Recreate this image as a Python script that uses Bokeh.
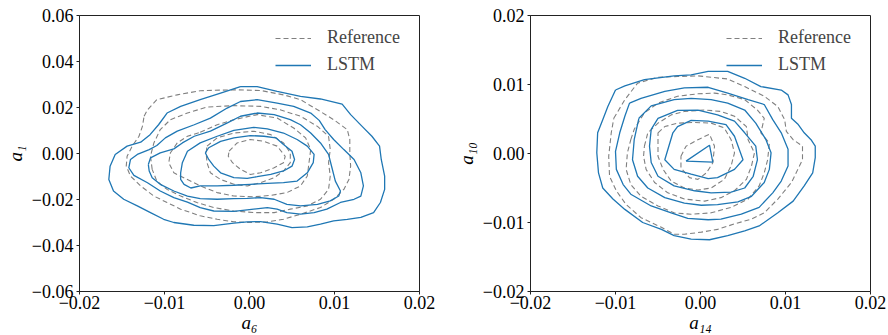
from bokeh.plotting import figure
from bokeh.layouts import row
from bokeh.models import FixedTicker, CustomJSTickFormatter, Range1d
from bokeh.embed import file_html
from bokeh.resources import INLINE

# ---------------- data ----------------
series_names = ["Reference", "LSTM"]

left_x_ticks = [-0.02, -0.01, 0.0, 0.01, 0.02]
left_y_ticks = [-0.06, -0.04, -0.02, 0.0, 0.02, 0.04, 0.06]
right_x_ticks = [-0.02, -0.01, 0.0, 0.01, 0.02]
right_y_ticks = [-0.02, -0.01, 0.0, 0.01, 0.02]

left_labels = ("a₆", "a₁")
right_labels = ("a₁₄", "a₁₀")

# Left panel (a6 vs a1): contour levels, outer to inner, as (x, y) points
left_lstm = [
    [(-0.00106, 0.0291), (0.0009, 0.0291), (0.00325, 0.027), (0.006, 0.0248), (0.00835, 0.0237),
     (0.0109, 0.0215), (0.0119, 0.0169), (0.01325, 0.0118), (0.0144, 0.0075), (0.0153, 0.0032),
     (0.0155, -0.0026), (0.0159, -0.0098), (0.0159, -0.0156), (0.0154, -0.0213), (0.0146, -0.0257),
     (0.0131, -0.0278), (0.0115, -0.0286), (0.0099, -0.0293), (0.00835, -0.0307), (0.0068, -0.0319),
     (0.005, -0.0322), (0.00325, -0.0307), (0.0013, -0.0296), (-0.00027, -0.0297), (-0.00184, -0.0303),
     (-0.0042, -0.0314), (-0.00655, -0.0312), (-0.0089, -0.03), (-0.0101, -0.0286), (-0.01165, -0.0257),
     (-0.0132, -0.0228), (-0.0148, -0.0199), (-0.016, -0.0163), (-0.01655, -0.0113), (-0.0164, -0.0055),
     (-0.0158, -0.0004), (-0.0144, 0.0032), (-0.0128, 0.0049), (-0.0117, 0.0082), (-0.0107, 0.0125),
     (-0.0097, 0.0176), (-0.0081, 0.0205), (-0.0058, 0.0234), (-0.0034, 0.0263)],
    [(-0.00263, 0.01976), (-0.00106, 0.0226), (0.0009, 0.0234), (0.00325, 0.0219), (0.0052, 0.0205),
     (0.0072, 0.0176), (0.0082, 0.0144), (0.0089, 0.0104), (0.0099, 0.0061), (0.0111, 0.0017),
     (0.0123, -0.0026), (0.0131, -0.0084), (0.0134, -0.0141), (0.0131, -0.0185), (0.0123, -0.0199),
     (0.0107, -0.0213), (0.0091, -0.0242), (0.0076, -0.0257), (0.006, -0.0264), (0.0044, -0.0257),
     (0.00325, -0.0242), (0.0021, -0.0235), (0.0005, -0.0242), (-0.00184, -0.0252), (-0.0042, -0.025),
     (-0.0058, -0.0235), (-0.0073, -0.0211), (-0.0089, -0.0192), (-0.0105, -0.0163), (-0.012, -0.0127),
     (-0.0136, -0.0095), (-0.0142, -0.0062), (-0.014, -0.0026), (-0.0132, -0.0004), (-0.0118, 0.0017),
     (-0.0109, 0.0035), (-0.0099, 0.0068), (-0.0085, 0.0097), (-0.0065, 0.0125), (-0.0046, 0.0154)],
    [(-0.0119, -0.0048), (-0.01165, -0.0019), (-0.0105, 0.0003), (-0.0089, 0.002), (-0.0079, 0.0046),
     (-0.0065, 0.0075), (-0.0046, 0.0097), (-0.0026, 0.0133), (-0.00106, 0.0162), (0.0009, 0.0176),
     (0.0029, 0.0169), (0.0048, 0.0147), (0.006, 0.0125), (0.0072, 0.0089), (0.00835, 0.0046),
     (0.0093, -0.0004), (0.0097, -0.0062), (0.0101, -0.012), (0.0107, -0.0163), (0.0105, -0.0185),
     (0.0095, -0.0206), (0.008, -0.0221), (0.006, -0.0228), (0.0044, -0.0221), (0.0029, -0.0199),
     (0.0013, -0.0192), (-0.00027, -0.0195), (-0.00184, -0.0196), (-0.0038, -0.0199), (-0.0058, -0.0196),
     (-0.0073, -0.0185), (-0.0089, -0.0163), (-0.0105, -0.0134), (-0.01145, -0.0105), (-0.0118, -0.0076)],
    [(-0.0081, -0.0084), (-0.0079, -0.004), (-0.0073, 0.001), (-0.0058, 0.0046), (-0.0038, 0.0075),
     (-0.00184, 0.0101), (0.0005, 0.0114), (0.0021, 0.0107), (0.004, 0.0089), (0.0056, 0.0061),
     (0.0068, 0.0032), (0.0076, -0.0004), (0.0075, -0.004), (0.0068, -0.0084), (0.0056, -0.012),
     (0.004, -0.0127), (0.0021, -0.013), (0.0001, -0.0134), (-0.00184, -0.0138), (-0.0038, -0.0141),
     (-0.0058, -0.0141), (-0.0069, -0.015), (-0.0077, -0.0134), (-0.0081, -0.0113)],
    [(-0.0052, 0.0003), (-0.0048, 0.0025), (-0.0034, 0.0053), (-0.00184, 0.0068), (0.0001, 0.0078),
     (0.0017, 0.0075), (0.0031, 0.0068), (0.004, 0.0039), (0.005, 0.001), (0.0053, -0.0026),
     (0.005, -0.0055), (0.004, -0.0076), (0.0025, -0.0091), (0.0009, -0.0101), (-0.00027, -0.0108),
     (-0.00184, -0.0105), (-0.0034, -0.0084), (-0.0042, -0.0055), (-0.0048, -0.0026)],
]

left_ref = [
    [(-0.0124, 0.0162), (-0.012, 0.019), (-0.0109, 0.0234), (-0.0085, 0.0255), (-0.0058, 0.0273),
     (-0.00184, 0.0277), (0.0013, 0.0274), (0.004, 0.0255), (0.006, 0.0234), (0.008, 0.019),
     (0.0099, 0.0147), (0.0115, 0.0104), (0.0118, 0.0061), (0.0118, 0.0003), (0.0119, -0.0055),
     (0.0117, -0.0113), (0.0111, -0.0156), (0.0099, -0.0199), (0.00835, -0.0235), (0.006, -0.0264),
     (0.004, -0.0286), (0.0021, -0.0297), (0.0001, -0.03), (-0.00184, -0.0297), (-0.0038, -0.0286),
     (-0.0058, -0.0271), (-0.0081, -0.0242), (-0.0097, -0.0213), (-0.01125, -0.0185), (-0.0128, -0.0141),
     (-0.014, -0.0098), (-0.0145, -0.0055), (-0.0144, -0.0012), (-0.0138, 0.0032), (-0.013, 0.0075),
     (-0.0126, 0.0118)],
    [(-0.01145, -0.0069), (-0.01165, -0.0012), (-0.01125, 0.0046), (-0.0105, 0.0104), (-0.0093, 0.0147),
     (-0.0073, 0.0176), (-0.005, 0.0202), (-0.00184, 0.0208), (0.0013, 0.0205), (0.0036, 0.019),
     (0.006, 0.0162), (0.008, 0.0118), (0.0093, 0.0075), (0.0095, 0.0017), (0.0093, -0.004),
     (0.0095, -0.0098), (0.0093, -0.0156), (0.00835, -0.0199), (0.0068, -0.0228), (0.0048, -0.0242),
     (0.0029, -0.0257), (0.0005, -0.0257), (-0.00184, -0.025), (-0.0042, -0.0235), (-0.0062, -0.0213),
     (-0.0081, -0.0185), (-0.0097, -0.0156), (-0.0109, -0.012)],
    [(-0.0058, 0.0092), (-0.0038, 0.0125), (-0.00184, 0.0147), (0.0009, 0.0169), (0.00325, 0.0154),
     (0.0052, 0.0111), (0.0066, 0.0068), (0.0072, 0.0017), (0.007, -0.004), (0.0068, -0.0098),
     (0.006, -0.0141), (0.0044, -0.017), (0.0025, -0.0182), (0.0005, -0.0188), (-0.00184, -0.0185),
     (-0.0038, -0.017), (-0.0058, -0.0141), (-0.0073, -0.0113), (-0.0089, -0.0084), (-0.0095, -0.004),
     (-0.0093, 0.0003), (-0.0085, 0.0046), (-0.0073, 0.0075)],
    [(-0.005, 0.0032), (-0.0038, 0.0068), (-0.00184, 0.0089), (0.0005, 0.0097), (0.0025, 0.0082),
     (0.004, 0.0046), (0.0048, 0.0003), (0.0048, -0.004), (0.004, -0.0076), (0.0029, -0.0105),
     (0.0013, -0.0127), (-0.00027, -0.0141), (-0.00184, -0.0134), (-0.0034, -0.0113), (-0.0046, -0.0084),
     (-0.005, -0.004), (-0.0051, 0.0003)],
    [(-0.0024, 0.001), (-0.00145, 0.0046), (0.0001, 0.0061), (0.0017, 0.0053), (0.00325, 0.0032),
     (0.0042, -0.0012), (0.004, -0.004), (0.0029, -0.0062), (0.0013, -0.0084), (0.0001, -0.0091),
     (-0.00106, -0.0069), (-0.002, -0.004), (-0.0025, -0.0012)],
]

# Right panel (a14 vs a10)
right_lstm = [
    [(-0.01, 0.0092), (-0.0089, 0.0098), (-0.0066, 0.0107), (-0.0031, 0.01125), (-0.0011, 0.0114),
     (0.0009, 0.0119), (0.0032, 0.0119), (0.0052, 0.0109), (0.0071, 0.0097), (0.0095, 0.0092),
     (0.0103, 0.0085), (0.0107, 0.0071), (0.0107, 0.0051), (0.0115, 0.0042), (0.0122, 0.003),
     (0.013, 0.002), (0.0135, 0.00106), (0.0135, -0.0006), (0.0132, -0.0028), (0.0122, -0.0047),
     (0.0109, -0.0069), (0.0091, -0.0086), (0.0069, -0.0105), (0.0052, -0.0112), (0.0032, -0.0119),
     (0.00106, -0.0125), (-0.0011, -0.0124), (-0.0031, -0.0119), (-0.0046, -0.011), (-0.0068, -0.01),
     (-0.0089, -0.0081), (-0.0103, -0.0066), (-0.0115, -0.005), (-0.012, -0.0028), (-0.0122, 0.0001),
     (-0.0121, 0.003), (-0.0115, 0.0049), (-0.0109, 0.0068)],
    [(-0.00835, 0.0073), (-0.007, 0.008), (-0.0042, 0.009), (-0.0019, 0.0095), (0.0009, 0.0096),
     (0.0032, 0.00875), (0.0056, 0.0078), (0.0075, 0.0071), (0.0085, 0.0049), (0.0095, 0.003),
     (0.0103, 0.0006), (0.0103, -0.0018), (0.0095, -0.004), (0.0085, -0.0057), (0.0069, -0.0078),
     (0.0048, -0.0088), (0.0024, -0.0095), (0.0009, -0.0096), (-0.0015, -0.0094), (-0.00345, -0.0086),
     (-0.0058, -0.0076), (-0.0082, -0.0059), (-0.0091, -0.0045), (-0.0099, -0.0023), (-0.01, 0.0003),
     (-0.0095, 0.003), (-0.0089, 0.0054)],
    [(-0.00725, 0.0051), (-0.0058, 0.0069), (-0.0031, 0.0078), (-0.0011, 0.008), (0.00125, 0.0078),
     (0.0032, 0.0073), (0.0052, 0.0063), (0.0065, 0.0044), (0.0077, 0.002), (0.0083, 0.0001),
     (0.0081, -0.0023), (0.0075, -0.0042), (0.006, -0.0062), (0.0044, -0.007), (0.002, -0.0074),
     (0.0001, -0.0075), (-0.0019, -0.0072), (-0.0042, -0.0064), (-0.0062, -0.005), (-0.0074, -0.0033),
     (-0.008, -0.0009), (-0.0078, 0.002)],
    [(-0.0058, 0.0035), (-0.005, 0.0051), (-0.0027, 0.00625), (-0.0003, 0.0063), (0.002, 0.0056),
     (0.004, 0.0047), (0.0052, 0.003), (0.0065, 0.00106), (0.0067, -0.0009), (0.0062, -0.0033),
     (0.0052, -0.005), (0.0036, -0.0056), (0.00125, -0.0057), (-0.0007, -0.0054), (-0.0031, -0.0047),
     (-0.005, -0.0033), (-0.0058, -0.0013), (-0.006, 0.00106)],
    [(-0.00325, 0.003), (-0.0027, 0.0039), (-0.0011, 0.0048), (0.0009, 0.0047), (0.003, 0.0042),
     (0.004, 0.0025), (0.005, -0.0009), (0.004, -0.0023), (0.002, -0.0035), (0.0009, -0.00365),
     (-0.0011, -0.003), (-0.0031, -0.0023), (-0.0042, -0.0009)],
    [(-0.0017, -0.0011), (0.00106, 0.0012), (0.00145, -0.00125)],
]

right_ref = [
    [(-0.0102, 0.0051), (-0.0089, 0.0078), (-0.0074, 0.0102), (-0.005, 0.01106), (-0.0027, 0.01115),
     (-0.0003, 0.01125), (0.0032, 0.0108), (0.0052, 0.0097), (0.0075, 0.0083), (0.0091, 0.0068),
     (0.0099, 0.0049), (0.0101, 0.0032), (0.0109, 0.002), (0.012, 0.00106), (0.012, -0.0009),
     (0.01145, -0.0023), (0.0107, -0.0042), (0.0091, -0.0066), (0.0075, -0.0086), (0.006, -0.0095),
     (0.004, -0.0102), (0.002, -0.011), (0.0001, -0.0114), (-0.0019, -0.0117), (-0.0031, -0.0117),
     (-0.0046, -0.0107), (-0.007, -0.0093), (-0.00875, -0.0074), (-0.0099, -0.0054), (-0.0107, -0.0033),
     (-0.0108, -0.0004), (-0.0105, 0.003)],
    [(-0.0082, 0.002), (-0.0078, 0.0035), (-0.0066, 0.0059), (-0.005, 0.0073), (-0.0027, 0.0083),
     (-0.0003, 0.00865), (0.00165, 0.00875), (0.0032, 0.0085), (0.0052, 0.0078), (0.0067, 0.0063),
     (0.0075, 0.0051), (0.0071, 0.003), (0.0081, 0.0015), (0.0079, -0.0009), (0.0075, -0.0028),
     (0.0069, -0.0047), (0.0056, -0.0066), (0.0036, -0.0078), (0.00125, -0.0086), (-0.0011, -0.0088),
     (-0.0031, -0.0086), (-0.005, -0.0076), (-0.007, -0.0062), (-0.0082, -0.0045), (-0.00875, -0.0023),
     (-0.0086, 0.0001)],
    [(-0.0066, 0.00106), (-0.0062, 0.003), (-0.005, 0.0044), (-0.00345, 0.0056), (-0.0019, 0.0061),
     (0.0005, 0.0063), (0.0024, 0.0061), (0.004, 0.0054), (0.0054, 0.0039), (0.0056, 0.002),
     (0.00635, 0.0001), (0.006, -0.0018), (0.0054, -0.00375), (0.004, -0.0054), (0.0024, -0.0064),
     (0.0005, -0.0069), (-0.0019, -0.0066), (-0.00385, -0.0057), (-0.0054, -0.0042), (-0.0064, -0.0023),
     (-0.0067, -0.0004)],
    [(-0.005, 0.003), (-0.0042, 0.0039), (-0.0027, 0.0044), (-0.0007, 0.0045), (0.00125, 0.0044),
     (0.0028, 0.0037), (0.0036, 0.002), (0.004, 0.0001), (0.0036, -0.0018), (0.0028, -0.00375),
     (0.00125, -0.005), (-0.0003, -0.0053), (-0.0019, -0.005), (-0.00345, -0.004), (-0.0044, -0.0023),
     (-0.005, -0.0004), (-0.005, 0.0015)],
    [(-0.0023, -0.0004), (-0.0017, 0.00106), (-0.0003, 0.002), (0.00106, 0.0028), (0.00165, 0.00106),
     (0.00145, -0.00135), (0.0007, -0.0028), (-0.0003, -0.00375), (-0.0013, -0.0035), (-0.0023, -0.0021)],
]

# ---------------- styling ----------------
REF_COLOR = "#808080"
LSTM_COLOR = "#1f77b4"
SERIF = "Liberation Serif"
FS = "18px"


def closed(contours):
    xs, ys = [], []
    for c in contours:
        pts = list(c) + [c[0]]
        xs.append([p[0] for p in pts])
        ys.append([p[1] for p in pts])
    return xs, ys


def panel(ref, lstm, xt, yt, labels, left_border, right_border):
    p = figure(width=444, height=335, output_backend="svg", toolbar_location=None,
               x_range=Range1d(xt[0], xt[-1]), y_range=Range1d(yt[0], yt[-1]),
               min_border_left=left_border, min_border_right=right_border,
               min_border_top=15, min_border_bottom=42)
    p.xgrid.visible = False
    p.ygrid.visible = False
    p.outline_line_color = "#222222"
    p.outline_line_width = 1
    p.background_fill_color = "white"
    p.border_fill_color = "white"

    fmt = CustomJSTickFormatter(code="return tick.toFixed(2).replace('-', '\u2212');")
    for ax, ticks, lab in ((p.xaxis[0], xt, labels[0]), (p.yaxis[0], yt, labels[1])):
        ax.ticker = FixedTicker(ticks=ticks)
        ax.formatter = fmt
        ax.minor_tick_line_color = None
        ax.major_tick_in = 0
        ax.major_tick_out = 3
        ax.major_label_standoff = 3
        ax.major_label_text_font = SERIF
        ax.major_label_text_font_size = FS
        ax.major_label_text_color = "black"
        ax.axis_line_color = "#222222"
        ax.major_tick_line_color = "#222222"
        ax.axis_label = lab
        ax.axis_label_text_font = SERIF
        ax.axis_label_text_font_style = "italic"
        ax.axis_label_text_font_size = "19px"
        ax.axis_label_text_color = "black"
    p.xaxis[0].major_label_standoff = 1
    p.xaxis[0].axis_label_standoff = 0
    p.yaxis[0].axis_label_standoff = 3

    rx, ry = closed(ref)
    lx, ly = closed(lstm)
    p.multi_line(xs=rx, ys=ry, line_color=REF_COLOR, line_width=1.1, line_dash="5 3",
                 legend_label=series_names[0])
    p.multi_line(xs=lx, ys=ly, line_color=LSTM_COLOR, line_width=1.3,
                 legend_label=series_names[1])

    lg = p.legend[0]
    lg.location = "top_right"
    lg.border_line_color = None
    lg.background_fill_alpha = 0
    lg.label_text_font = SERIF
    lg.label_text_font_size = "18px"
    lg.glyph_width = 36
    lg.glyph_height = 20
    lg.label_width = 80
    lg.label_standoff = 16
    lg.spacing = 6
    lg.padding = 6
    lg.margin = 12
    return p


p1 = panel(left_ref, left_lstm, left_x_ticks, left_y_ticks, left_labels, 79, 25)
p2 = panel(right_ref, right_lstm, right_x_ticks, right_y_ticks, right_labels, 86, 18)
layout = row(p1, p2)

open("out.html", "w").write(file_html(layout, INLINE))
